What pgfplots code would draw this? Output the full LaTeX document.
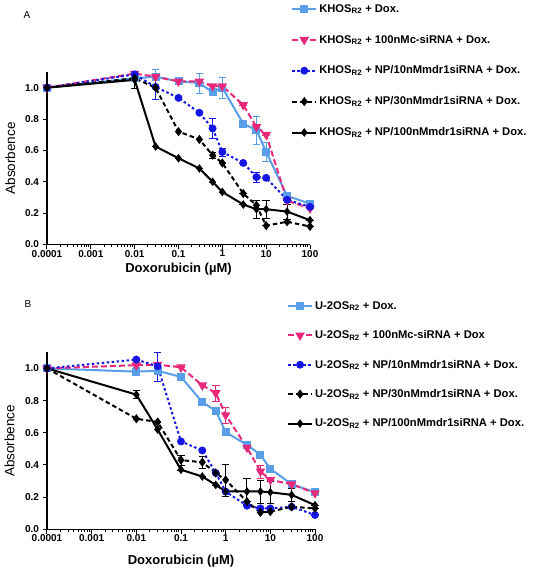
\documentclass[border=0pt]{standalone}
\usepackage{fontspec}
\setmainfont{Liberation Sans}
\usepackage{pgfplots}
\pgfplotsset{compat=1.18}

\definecolor{lblue}{RGB}{88,158,232}
\definecolor{mypink}{RGB}{232,40,122}
\definecolor{myblue}{RGB}{22,22,228}

\tikzset{
 sA/.style={lblue, line width=2pt, mark=square*, mark size=3pt, mark options={solid}},
 sB/.style={mypink, line width=2pt, dash pattern=on 6pt off 3pt, mark=triangle*, mark size=3.6pt, mark options={solid, rotate=180}},
 sC/.style={myblue, line width=2pt, dash pattern=on 2.5pt off 2.5pt, mark=*, mark size=2.9pt, mark options={solid}},
 sD/.style={black, line width=2pt, dash pattern=on 4.5pt off 3pt, mark=diamond*, mark size=3pt, mark options={solid}},
 sE/.style={black, line width=2pt, mark=diamond*, mark size=2.7pt, mark options={solid}},
}

\begin{document}
\begin{tikzpicture}
\useasboundingbox (0,0) rectangle (537pt,-572pt);
\node[font=\fontsize{10}{10}\selectfont] at (27pt,-15pt) {A};
\node[font=\fontsize{10}{10}\selectfont] at (28pt,-304pt) {B};

% ---------------- Panel A ----------------
\begin{semilogxaxis}[
  at={(47pt,-244.5pt)}, anchor=south west, width=263pt, height=172.5pt,
  xmin=0.0001, xmax=100, ymin=0, ymax=1.1,
  scale only axis,
  axis x line=bottom, axis y line=left,
  axis line style={-, line width=1.6pt},
  xtick={0.0001,0.001,0.01,0.1,1,10,100},
  xticklabels={0.0001,0.001,0.01,0.1,1,10,100},
  minor xtick={0.0002,0.0003,0.0004,0.0005,0.0006,0.0007,0.0008,0.0009,0.002,0.003,0.004,0.005,0.006,0.007,0.008,0.009,0.02,0.03,0.04,0.05,0.06,0.07,0.08,0.09,0.2,0.3,0.4,0.5,0.6,0.7,0.8,0.9,2,3,4,5,6,7,8,9,20,30,40,50,60,70,80,90},
  ytick={0,0.2,0.4,0.6,0.8,1.0},
  yticklabels={0.0,0.2,0.4,0.6,0.8,1.0},
  tick align=outside,
  major tick length=4.5pt, minor tick length=2.5pt,
  tick style={black, line width=1pt},
  tick label style={font=\bfseries\fontsize{10}{10}\selectfont},
  xticklabel style={yshift=2.5pt},
  xlabel={Doxorubicin (µM)},
  ylabel={Absorbence},
  xlabel style={font=\bfseries\fontsize{13}{13}\selectfont, at={(axis description cs:0.5,-0.14)}, anchor=center},
  ylabel style={font=\fontsize{13.5}{13.5}\selectfont, at={(axis description cs:-0.14,0.5)}, anchor=center},
  legend cell align=left,
  legend style={draw=none, fill=none, inner sep=0pt, anchor=north west,
    at={(axis description cs:0.928,1.405)},
    font=\bfseries\fontsize{11.2}{12}\selectfont, row sep=17.3pt},
  legend image code/.code={\draw[mark repeat=2,mark phase=2,#1,line width=2pt] plot coordinates {(0pt,0pt) (12pt,0pt) (24pt,0pt)};},
  clip=false,
  error bars/y dir=both, error bars/y explicit,
  error bars/error bar style={solid, line width=1pt, mark size=3.8pt},
]
\addplot[sA] table[x=x,y=y,y error=e] {
x y e
0.0001 1.00 0
0.01 1.06 0
0.03 1.07 0.05
0.1 1.04 0
0.3 1.03 0.065
0.6 0.97 0
1 1.00 0.065
3 0.77 0
6 0.73 0.09
10 0.59 0.06
30 0.31 0.015
100 0.26 0.01
};
\addlegendentry{KHOS\textsubscript{R2} + Dox.}
\addplot[sB] table[x=x,y=y,y error=e] {
x y e
0.0001 1.00 0
0.01 1.09 0
0.03 1.07 0
0.1 1.04 0
0.3 1.04 0
0.6 1.01 0
1 1.01 0
3 0.89 0
6 0.75 0
10 0.70 0
30 0.28 0
100 0.23 0
};
\addlegendentry{KHOS\textsubscript{R2} + 100nMc-siRNA + Dox.}
\addplot[sC] table[x=x,y=y,y error=e] {
x y e
0.0001 1.00 0
0.01 1.085 0
0.03 1.005 0.08
0.1 0.935 0
0.3 0.84 0
0.6 0.74 0.065
1 0.59 0.025
3 0.52 0
6 0.43 0.03
10 0.425 0
30 0.285 0
100 0.24 0
};
\addlegendentry{KHOS\textsubscript{R2} + NP/10nMmdr1siRNA + Dox.}
\addplot[sD] table[x=x,y=y,y error=e] {
x y e
0.0001 1.00 0
0.01 1.06 0
0.03 1.00 0
0.1 0.72 0
0.3 0.67 0
0.6 0.57 0.02
1 0.52 0
3 0.325 0
6 0.25 0
10 0.12 0
30 0.145 0
100 0.115 0
};
\addlegendentry{KHOS\textsubscript{R2} + NP/30nMmdr1siRNA + Dox.}
\addplot[sE] table[x=x,y=y,y error=e] {
x y e
0.0001 1.00 0
0.01 1.05 0.055
0.03 0.625 0
0.1 0.55 0
0.3 0.485 0
0.6 0.40 0
1 0.335 0
3 0.255 0
6 0.225 0.06
10 0.225 0.06
30 0.21 0.05
100 0.155 0
};
\addlegendentry{KHOS\textsubscript{R2} + NP/100nMmdr1siRNA + Dox.}
\end{semilogxaxis}

% ---------------- Panel B ----------------
\begin{semilogxaxis}[
  at={(47pt,-529.3pt)}, anchor=south west, width=268pt, height=177pt,
  xmin=0.0001, xmax=100, ymin=0, ymax=1.1,
  scale only axis,
  axis x line=bottom, axis y line=left,
  axis line style={-, line width=1.6pt},
  xtick={0.0001,0.001,0.01,0.1,1,10,100},
  xticklabels={0.0001,0.001,0.01,0.1,1,10,100},
  minor xtick={0.0002,0.0003,0.0004,0.0005,0.0006,0.0007,0.0008,0.0009,0.002,0.003,0.004,0.005,0.006,0.007,0.008,0.009,0.02,0.03,0.04,0.05,0.06,0.07,0.08,0.09,0.2,0.3,0.4,0.5,0.6,0.7,0.8,0.9,2,3,4,5,6,7,8,9,20,30,40,50,60,70,80,90},
  ytick={0,0.2,0.4,0.6,0.8,1.0},
  yticklabels={0.0,0.2,0.4,0.6,0.8,1.0},
  tick align=outside,
  major tick length=4.5pt, minor tick length=2.5pt,
  tick style={black, line width=1pt},
  tick label style={font=\bfseries\fontsize{10}{10}\selectfont},
  xticklabel style={yshift=2.5pt},
  xlabel={Doxorubicin (µM)},
  ylabel={Absorbence},
  xlabel style={font=\bfseries\fontsize{13}{13}\selectfont, at={(axis description cs:0.5,-0.18)}, anchor=center},
  ylabel style={font=\fontsize{13.5}{13.5}\selectfont, at={(axis description cs:-0.14,0.5)}, anchor=center},
  legend cell align=left,
  legend style={draw=none, fill=none, inner sep=0pt, anchor=north west,
    at={(axis description cs:0.895,1.30)},
    font=\bfseries\fontsize{11.2}{12}\selectfont, row sep=15.8pt},
  legend image code/.code={\draw[mark repeat=2,mark phase=2,#1,line width=2pt] plot coordinates {(0pt,0pt) (12pt,0pt) (24pt,0pt)};},
  clip=false,
  error bars/y dir=both, error bars/y explicit,
  error bars/error bar style={solid, line width=1pt, mark size=3.8pt},
]
\addplot[sA] table[x=x,y=y,y error=e] {
x y e
0.0001 1.00 0
0.01 0.98 0.025
0.03 0.985 0
0.1 0.947 0
0.3 0.79 0
0.6 0.737 0
1 0.604 0
3 0.525 0
6 0.463 0
10 0.376 0
30 0.28 0
100 0.23 0
};
\addlegendentry{U-2OS\textsubscript{R2} + Dox.}
\addplot[sB] table[x=x,y=y,y error=e] {
x y e
0.0001 1.00 0
0.01 1.02 0
0.03 1.023 0
0.1 1.007 0
0.3 0.895 0
0.6 0.847 0.05
1 0.71 0.05
3 0.508 0
6 0.36 0.04
10 0.307 0
30 0.28 0
100 0.225 0
};
\addlegendentry{U-2OS\textsubscript{R2} + 100nMc-siRNA + Dox}
\addplot[sC] table[x=x,y=y,y error=e] {
x y e
0.0001 1.00 0
0.01 1.055 0
0.03 1.013 0.09
0.1 0.546 0
0.3 0.49 0
0.6 0.35 0
1 0.234 0
3 0.147 0
6 0.13 0
10 0.13 0
30 0.14 0
100 0.089 0
};
\addlegendentry{U-2OS\textsubscript{R2} + NP/10nMmdr1siRNA + Dox.}
\addplot[sD] table[x=x,y=y,y error=e] {
x y e
0.0001 1.00 0
0.01 0.687 0
0.03 0.667 0
0.1 0.43 0.03
0.3 0.417 0.04
0.6 0.35 0
1 0.307 0.1
3 0.172 0
6 0.105 0
10 0.11 0
30 0.14 0
100 0.13 0
};
\addlegendentry{U-2OS\textsubscript{R2} + NP/30nMmdr1siRNA + Dox.}
\addplot[sE] table[x=x,y=y,y error=e] {
x y e
0.0001 1.00 0
0.01 0.837 0.025
0.03 0.62 0
0.1 0.37 0
0.3 0.328 0
0.6 0.276 0
1 0.235 0
3 0.235 0.08
6 0.235 0.07
10 0.23 0.07
30 0.214 0.04
100 0.15 0
};
\addlegendentry{U-2OS\textsubscript{R2} + NP/100nMmdr1siRNA + Dox.}
\end{semilogxaxis}
\end{tikzpicture}
\end{document}
